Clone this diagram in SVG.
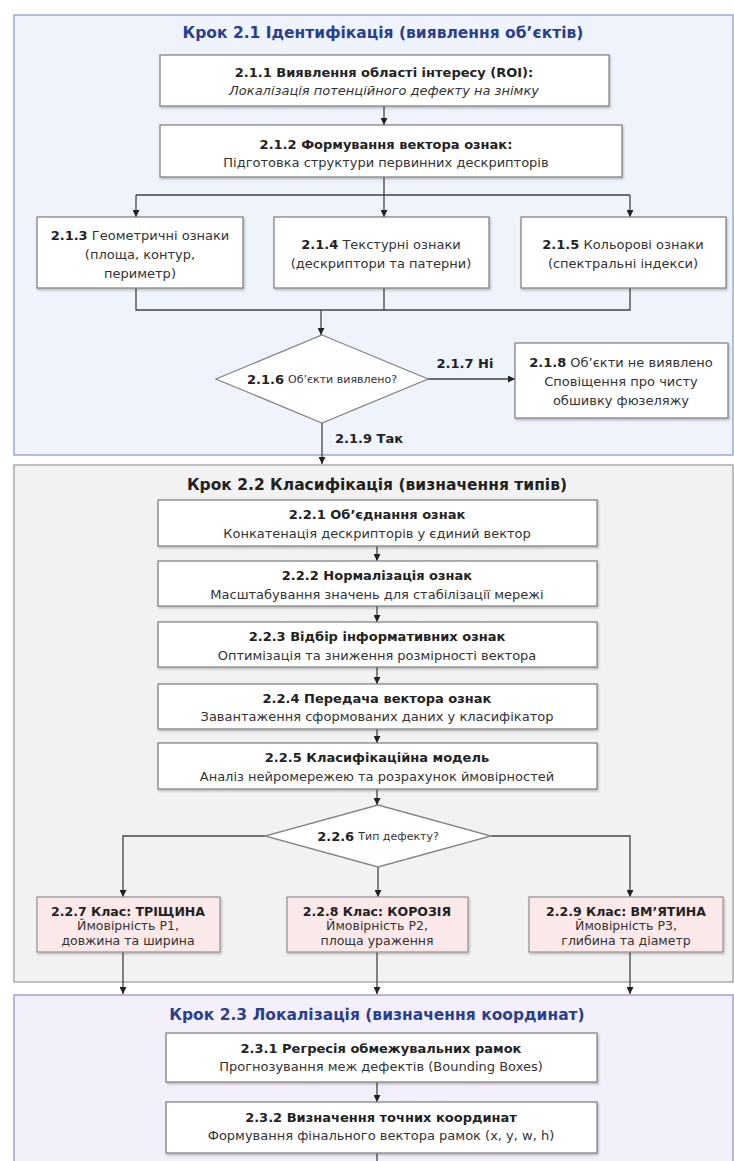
<svg xmlns="http://www.w3.org/2000/svg" width="734" height="1161" viewBox="0 0 734 1161">
<style>
text{font-family:"DejaVu Sans","Noto Sans",sans-serif;font-size:13px;fill:#333;text-anchor:middle;dominant-baseline:central}
.b{font-weight:bold;fill:#222}
.i{font-style:italic}
.s{font-size:11px}
.c{font-size:12.5px}
.t1{font-size:15.5px;font-weight:bold;fill:#2a3f8f}
.t2{font-size:15.5px;font-weight:bold;fill:#222}
.box{fill:#fff;stroke:#858585;stroke-width:1.3;filter:url(#sh)}
.cls{fill:#fbe8e8;stroke:#989898;stroke-width:1.3;filter:url(#sh)}
.dia{fill:#fff;stroke:#858585;stroke-width:1.3}
.ln{fill:none;stroke:#444;stroke-width:1.3}
.ar{fill:none;stroke:#444;stroke-width:1.3;marker-end:url(#ah)}
</style>
<defs>
<marker id="ah" viewBox="0 0 10 10" refX="10" refY="5" markerWidth="7" markerHeight="7" markerUnits="userSpaceOnUse" orient="auto"><path d="M0,0 L10,5 L0,10 z" fill="#222"/></marker>
<filter id="sh" x="-5%" y="-10%" width="110%" height="130%"><feDropShadow dx="1" dy="1.5" stdDeviation="1" flood-color="#000" flood-opacity="0.25"/></filter>
</defs>

<g id="panel1"><rect x="14" y="15" width="719" height="440" fill="#eef3fc" stroke="#9aaad6" stroke-width="1.5"/><text class="t1" x="383" y="33">Крок 2.1 Ідентифікація (виявлення об’єктів)</text></g>
<g id="panel2"><rect x="14" y="465" width="719" height="517" fill="#f2f2f2" stroke="#aaaaaa" stroke-width="1.5"/><text class="t2" x="377" y="485">Крок 2.2 Класифікація (визначення типів)</text></g>
<g id="panel3"><rect x="14" y="995" width="719" height="200" fill="#f3effb" stroke="#a6a0d2" stroke-width="1.5"/><text class="t1" x="377" y="1015">Крок 2.3 Локалізація (визначення координат)</text></g>

<g id="connectors">
<path class="ar" d="M384,106 V125"/>
<path class="ln" d="M384,177 V195 M136,195 H630"/>
<path class="ar" d="M136,195 V217"/>
<path class="ar" d="M384,195 V217"/>
<path class="ar" d="M630,195 V217"/>
<path class="ln" d="M136,288 V310 H630 V288 M384,288 V310"/>
<path class="ar" d="M321,310 V335"/>
<path class="ar" d="M428,379 H515"/>
<path class="ar" d="M322,423 V464"/>
<path class="ar" d="M377,546 V561"/>
<path class="ar" d="M377,606 V622"/>
<path class="ar" d="M377,667 V684"/>
<path class="ar" d="M377,729 V743"/>
<path class="ar" d="M377,789 V805"/>
<path class="ar" d="M265,836 H123 V897"/>
<path class="ar" d="M491,836 H630 V897"/>
<path class="ar" d="M378,867 V897"/>
<path class="ar" d="M123,952 V994"/>
<path class="ar" d="M377,952 V994"/>
<path class="ar" d="M630,952 V994"/>
<path class="ar" d="M377,1082 V1102"/>
<path class="ln" d="M377,1153 V1161"/>
<text class="b" x="465" y="363">2.1.7 Ні</text>
<text class="b" x="335" y="438" style="text-anchor:start">2.1.9 Так</text>
</g>

<g id="n211"><rect class="box" x="160" y="55" width="449" height="51"/><text class="b" x="384" y="72">2.1.1 Виявлення області інтересу (ROI):</text><text class="i" x="384" y="90">Локалізація потенційного дефекту на знімку</text></g>
<g id="n212"><rect class="box" x="160" y="125" width="462" height="52"/><text class="b" x="386" y="144">2.1.2 Формування вектора ознак:</text><text x="386" y="162">Підготовка структури первинних дескрипторів</text></g>
<g id="n213"><rect class="box" x="37" y="217" width="206" height="71"/><text x="140" y="235"><tspan class="b">2.1.3</tspan> Геометричні ознаки</text><text x="140" y="254">(площа, контур,</text><text x="140" y="273">периметр)</text></g>
<g id="n214"><rect class="box" x="274" y="217" width="215" height="71"/><text x="381" y="244"><tspan class="b">2.1.4</tspan> Текстурні ознаки</text><text x="381" y="263">(дескриптори та патерни)</text></g>
<g id="n215"><rect class="box" x="521" y="217" width="205" height="71"/><text x="623" y="244"><tspan class="b">2.1.5</tspan> Кольорові ознаки</text><text x="623" y="263">(спектральні індекси)</text></g>
<g id="n216"><polygon class="dia" points="322,335 428,379 322,423 216,379"/><text x="322" y="379"><tspan class="b">2.1.6</tspan> <tspan class="s">Об’єкти виявлено?</tspan></text></g>
<g id="n218"><rect class="box" x="515" y="343" width="213" height="75"/><text x="621" y="362"><tspan class="b">2.1.8</tspan> Об’єкти не виявлено</text><text x="621" y="381">Сповіщення про чисту</text><text x="621" y="400">обшивку фюзеляжу</text></g>

<g id="n221"><rect class="box" x="158" y="500" width="439" height="46"/><text class="b" x="377" y="514">2.2.1 Об’єднання ознак</text><text x="377" y="533">Конкатенація дескрипторів у єдиний вектор</text></g>
<g id="n222"><rect class="box" x="158" y="561" width="439" height="45"/><text class="b" x="377" y="575">2.2.2 Нормалізація ознак</text><text x="377" y="594">Масштабування значень для стабілізації мережі</text></g>
<g id="n223"><rect class="box" x="158" y="622" width="439" height="45"/><text class="b" x="377" y="636">2.2.3 Відбір інформативних ознак</text><text x="377" y="655">Оптимізація та зниження розмірності вектора</text></g>
<g id="n224"><rect class="box" x="158" y="684" width="439" height="45"/><text class="b" x="377" y="698">2.2.4 Передача вектора ознак</text><text x="377" y="716">Завантаження сформованих даних у класифікатор</text></g>
<g id="n225"><rect class="box" x="158" y="743" width="439" height="46"/><text class="b" x="377" y="757">2.2.5 Класифікаційна модель</text><text x="377" y="776">Аналіз нейромережею та розрахунок ймовірностей</text></g>
<g id="n226"><polygon class="dia" points="378,805 491,836 378,867 265,836"/><text x="378" y="836"><tspan class="b">2.2.6</tspan> <tspan class="s">Тип дефекту?</tspan></text></g>
<g id="n227"><rect class="cls" x="37" y="897" width="183" height="55"/><text class="b c" x="128" y="911">2.2.7 Клас: ТРІЩИНА</text><text class="c" x="128" y="925">Ймовірність P1,</text><text class="c" x="128" y="940">довжина та ширина</text></g>
<g id="n228"><rect class="cls" x="287" y="897" width="181" height="55"/><text class="b c" x="377" y="911">2.2.8 Клас: КОРОЗІЯ</text><text class="c" x="377" y="925">Ймовірність P2,</text><text class="c" x="377" y="940">площа ураження</text></g>
<g id="n229"><rect class="cls" x="529" y="897" width="194" height="55"/><text class="b c" x="626" y="911">2.2.9 Клас: ВМ’ЯТИНА</text><text class="c" x="626" y="925">Ймовірність P3,</text><text class="c" x="626" y="940">глибина та діаметр</text></g>

<g id="n231"><rect class="box" x="166" y="1033" width="431" height="49"/><text class="b" x="381" y="1048">2.3.1 Регресія обмежувальних рамок</text><text x="381" y="1066">Прогнозування меж дефектів (Bounding Boxes)</text></g>
<g id="n232"><rect class="box" x="166" y="1102" width="431" height="51"/><text class="b" x="381" y="1117">2.3.2 Визначення точних координат</text><text x="381" y="1135">Формування фінального вектора рамок (x, y, w, h)</text></g>
</svg>
